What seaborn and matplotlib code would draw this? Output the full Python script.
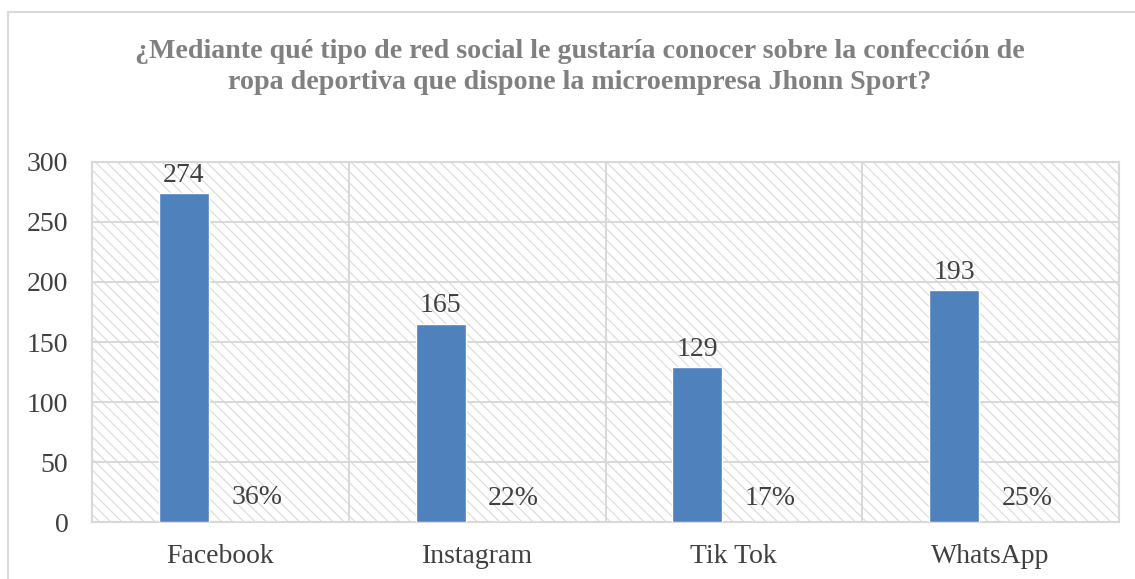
import matplotlib
matplotlib.use("Agg")
import matplotlib.pyplot as plt
import seaborn as sns
import pandas as pd
from matplotlib.patches import Rectangle

# ---- data ----
categorias = ["Facebook", "Instagram", "Tik Tok", "WhatsApp"]
cantidades = [274, 165, 129, 193]
porcentajes = [36, 22, 17, 25]
titulo = ("¿Mediante qué tipo de red social le gustaría conocer sobre la confección de\n"
          "ropa deportiva que dispone la microempresa Jhonn Sport?")
y_ticks = [0, 50, 100, 150, 200, 250, 300]

df = pd.DataFrame({
    "categoria": categorias * 2,
    "serie": ["Cantidad"] * 4 + ["Porcentaje"] * 4,
    "valor": cantidades + [p / 100 for p in porcentajes],
})

sns.set_theme(style="white")
plt.rcParams["font.family"] = ["Liberation Serif", "DejaVu Serif"]
plt.rcParams["hatch.linewidth"] = 0.8

W, H = 1135, 579
fig = plt.figure(figsize=(W / 100, H / 100), dpi=100)
ax = fig.add_axes([92 / W, 1 - 522 / H, (1119 - 92) / W, (522 - 162) / H])

# outer chart border
fig.patches.append(Rectangle((8 / W, -0.1), 1.2, 1 - 12 / H + 0.1, transform=fig.transFigure,
                             fill=False, edgecolor="#D9D9D9", lw=1.5, zorder=0))

# hatched plot-area background
ax.add_patch(Rectangle((0, 0), 1, 1, transform=ax.transAxes, facecolor="white",
                       edgecolor="#DADADA", hatch="\\\\\\", lw=0, zorder=0))

sns.barplot(data=df, x="categoria", y="valor", hue="serie", order=categorias,
            palette={"Cantidad": "#4F81BD", "Porcentaje": (0, 0, 0, 0)},
            width=0.568, gap=0.313, legend=False, ax=ax, zorder=3, saturation=1)

ax.bar_label(ax.containers[0], labels=[str(v) for v in cantidades], padding=4,
             fontsize=20, color="#404040")
ax.bar_label(ax.containers[1], labels=[f"{p}%" for p in porcentajes], padding=8,
             fontsize=20, color="#404040")

ax.set_xlim(-0.5, 3.5)
ax.set_ylim(0, 300)
ax.set_yticks(y_ticks)
ax.set_xticks([0.5, 1.5, 2.5], minor=True)
ax.grid(True, axis="y", which="major", color="#D9D9D9", lw=1.5, zorder=1)
ax.grid(True, axis="x", which="minor", color="#D9D9D9", lw=1.5, zorder=1)
ax.grid(False, axis="x", which="major")
ax.set_axisbelow(True)
ax.tick_params(axis="both", which="both", length=0, labelsize=20, labelcolor="#404040")
ax.tick_params(axis="y", pad=17)
ax.tick_params(axis="x", pad=16)
ax.set_xlabel("")
ax.set_ylabel("")
for s in ax.spines.values():
    s.set_visible(True)
    s.set_color("#D9D9D9")
    s.set_linewidth(1.5)

fig.text(580 / W, 1 - 67 / H, titulo, ha="center", va="center", fontsize=20.2,
         fontweight="bold", color="#808080", linespacing=1.32)

fig.savefig("out.png", dpi=100)
